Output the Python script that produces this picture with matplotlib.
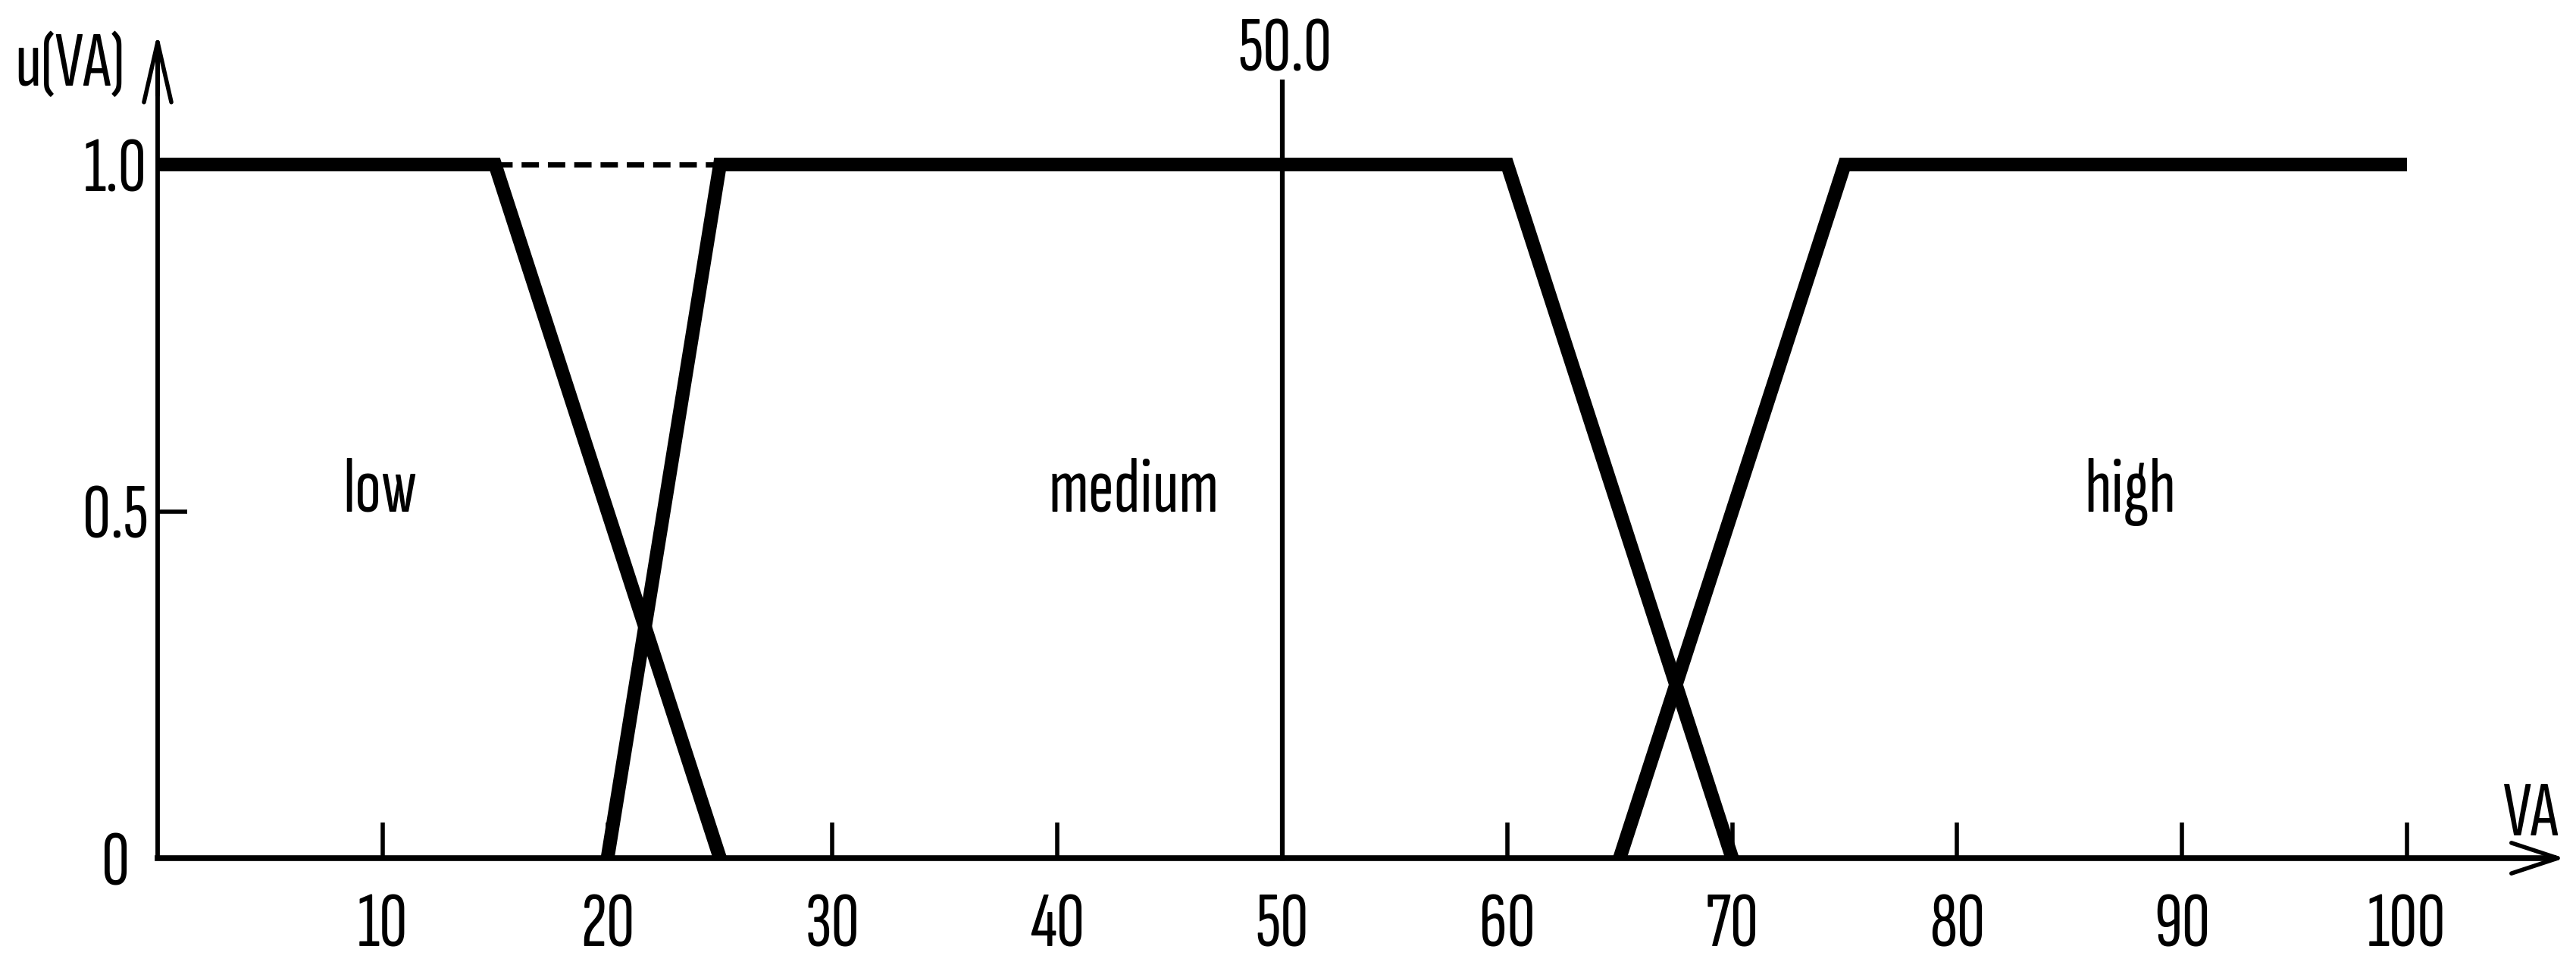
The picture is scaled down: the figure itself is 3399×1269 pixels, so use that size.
import matplotlib.pyplot as plt
from matplotlib.patches import ArrowStyle

# membership functions (VA -> u(VA))
low_x = [0, 15, 25]
low_u = [1.0, 1.0, 0.0]
medium_x = [20, 25, 60, 70]
medium_u = [0.0, 1.0, 1.0, 0.0]
high_x = [65, 75, 100]
high_u = [0.0, 1.0, 1.0]

# dashed link between low and medium plateaus
gap_x = [15, 25]
gap_u = [1.0, 1.0]

set_names = ["low", "medium", "high"]
set_label_x = [9.9, 43.4, 87.7]
set_label_u = [0.5, 0.5, 0.5]

marker_x = 50.0

x_ticks = [10, 20, 30, 40, 50, 60, 70, 80, 90, 100]
y_ticks = [0, 0.5, 1.0]
y_tick_labels = ["0", "0.5", "1.0"]

FONT = ["Sofia Sans Extra Condensed", "Roboto Condensed", "DejaVu Sans"]
FS = 74


def main() -> None:
    plt.rcParams["font.family"] = FONT
    fig = plt.figure(figsize=(33.99, 12.69), dpi=100)
    # axes placed so that VA=0 sits at px 208 and u=0 at px 1132 (from top)
    ax = fig.add_axes([208 / 3399, 137 / 1269, 107.3 * 29.68 / 3399, 1.22 * 915 / 1269])
    ax.set_xlim(0, 107.3)
    ax.set_ylim(0, 1.22)

    for side in ("top", "right"):
        ax.spines[side].set_visible(False)
    ax.spines["bottom"].set_bounds(0, 106.5)
    ax.spines["bottom"].set_linewidth(5.5)
    ax.spines["left"].set_bounds(0, 1.17)
    ax.spines["left"].set_linewidth(4.2)

    ax.set_xticks(x_ticks)
    ax.set_xticklabels([str(t) for t in x_ticks])
    ax.set_yticks(y_ticks)
    ax.set_yticklabels(y_tick_labels)
    ax.tick_params(axis="x", direction="in", length=34, width=4, pad=33, labelsize=FS)
    ax.tick_params(axis="y", direction="in", length=28, width=4, pad=40, labelsize=FS)
    for lab in ax.get_yticklabels():
        lab.set_horizontalalignment("center")

    # axis arrowheads
    ax.annotate("", xy=(107.0, 0), xytext=(104.0, 0), annotation_clip=False,
                arrowprops=dict(arrowstyle=ArrowStyle("->", head_length=44, head_width=14.5),
                                mutation_scale=1, lw=4, color="black",
                                shrinkA=0, shrinkB=0))
    ax.annotate("", xy=(0, 1.19), xytext=(0, 1.1), annotation_clip=False,
                arrowprops=dict(arrowstyle=ArrowStyle("->", head_length=57, head_width=13),
                                mutation_scale=1, lw=4, color="black",
                                shrinkA=0, shrinkB=0))

    style = dict(color="black", lw=13, solid_joinstyle="miter",
                 solid_capstyle="butt", clip_on=False, zorder=4)
    ax.plot(low_x, low_u, **style)
    ax.plot(medium_x, medium_u, **style)
    ax.plot(high_x, high_u, **style)
    ax.plot(gap_x, gap_u, color="black", lw=5, linestyle=(0, (3.3, 1.7)), zorder=3)

    ax.plot([marker_x, marker_x], [0, 1.119], color="black", lw=4.5, clip_on=False, zorder=3)
    ax.text(marker_x + 0.1, 1.135, f"{marker_x:.1f}", ha="center", va="baseline", fontsize=FS)

    for name, lx, lu in zip(set_names, set_label_x, set_label_u):
        ax.text(lx, lu, name, ha="center", va="baseline", fontsize=FS)

    ax.text(-3.9, 1.114, "u(VA)", ha="center", va="baseline", fontsize=FS, clip_on=False)
    ax.text(105.5, 0.033, "VA", ha="center", va="baseline", fontsize=FS, clip_on=False)

    fig.savefig("out.png", dpi=100)


if __name__ == "__main__":
    main()
